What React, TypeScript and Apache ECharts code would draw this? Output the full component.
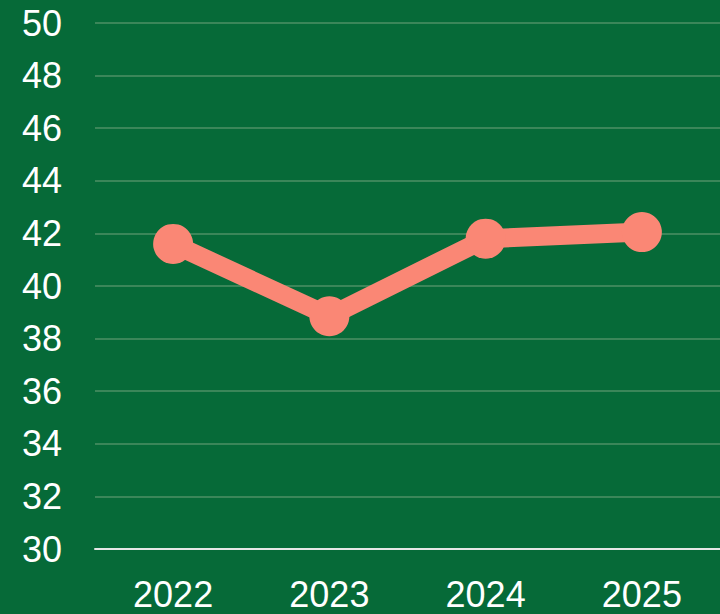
import React, { useEffect, useRef } from "react";
import * as echarts from "echarts";

const categories = ["2022", "2023", "2024", "2025"];
const values = [41.6, 38.85, 41.8, 42.05];
const yMin = 30;
const yMax = 50;
const yInterval = 2;

export default function App() {
  const ref = useRef<HTMLDivElement>(null);
  useEffect(() => {
    if (!ref.current) return;
    const chart = echarts.init(ref.current, null, { renderer: "svg" });
    chart.setOption({
      animation: false,
      backgroundColor: "#066a38",
      textStyle: { fontFamily: "Liberation Sans, Arial, sans-serif" },
      grid: { left: 95, top: 23, width: 630, bottom: 65, containLabel: false },
      xAxis: {
        type: "category",
        data: categories,
        boundaryGap: true,
        axisLine: { show: true, lineStyle: { color: "#e6e6e6", width: 2 } },
        axisTick: { show: false },
        axisLabel: { color: "#ffffff", fontSize: 36, margin: 27 },
        splitLine: { show: false },
      },
      yAxis: {
        type: "value",
        min: yMin,
        max: yMax,
        interval: yInterval,
        axisLine: { show: false },
        axisTick: { show: false },
        axisLabel: { color: "#ffffff", fontSize: 36, margin: 33 },
        splitLine: { show: true, lineStyle: { color: "#3b8659", width: 2 } },
      },
      series: [
        {
          type: "line",
          data: values,
          symbol: "circle",
          symbolSize: 40,
          lineStyle: { color: "#fa8775", width: 19 },
          itemStyle: { color: "#fa8775" },
        },
      ],
    });
    return () => chart.dispose();
  }, []);
  return (
    <div
      ref={ref}
      style={{ position: "fixed", left: 0, top: 0, width: 720, height: 614 }}
    />
  );
}
